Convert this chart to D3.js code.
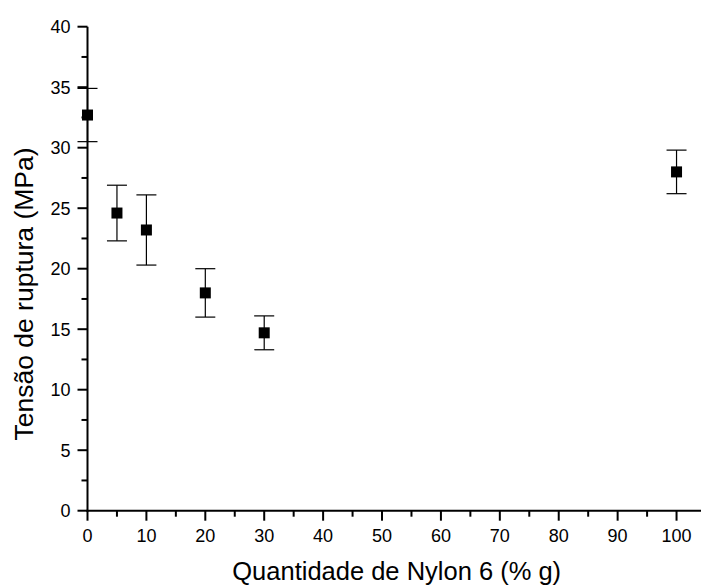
<!DOCTYPE html>
<html>
<head>
<meta charset="utf-8">
<script src="https://cdn.jsdelivr.net/npm/d3@7"></script>
<style>
  body { margin: 0; background: #fff; }
  text { font-family: "Liberation Sans", Arial, sans-serif; fill: #000; }
</style>
</head>
<body>
<div id="draw"></div>
<script>
// data
let nylon = [0, 5, 10, 20, 30, 100];
let tensao = [32.7, 24.6, 23.2, 18.0, 14.7, 28.0];
let errUp = [34.9, 26.9, 26.1, 20.0, 16.1, 29.8];
let errDown = [30.5, 22.3, 20.3, 16.0, 13.3, 26.2];
let xTicks = [0, 10, 20, 30, 40, 50, 60, 70, 80, 90, 100];
let yTicks = [0, 5, 10, 15, 20, 25, 30, 35, 40];

// parameters
let width = 701, height = 585;
let margin = { top: 26.7, left: 87.5, bottom: 74.3, right: 0 };
let x = d3.scaleLinear().domain([0, 104]).range([margin.left, margin.left + 612.6]);
let y = d3.scaleLinear().domain([0, 40]).range([height - margin.bottom, margin.top]);

let svg = d3.select('#draw').append('svg').attr('width', width).attr('height', height);

// minor ticks
let xMinor = d3.range(5, 105, 10);
let yMinor = d3.range(2.5, 40, 5);

let gx = svg.append('g').attr('transform', 'translate(0,' + y(0) + ')');
gx.append('line').attr('x1', x(0) - 1).attr('x2', width).attr('stroke', '#000').attr('stroke-width', 2);
gx.selectAll('.maj').data(xTicks).enter().append('line')
    .attr('x1', d => x(d)).attr('x2', d => x(d)).attr('y1', 0).attr('y2', 10)
    .attr('stroke', '#000').attr('stroke-width', 2);
gx.selectAll('.min').data(xMinor).enter().append('line')
    .attr('x1', d => x(d)).attr('x2', d => x(d)).attr('y1', 0).attr('y2', 6)
    .attr('stroke', '#000').attr('stroke-width', 2);
gx.selectAll('text').data(xTicks).enter().append('text')
    .attr('x', d => x(d)).attr('y', 31.5).attr('text-anchor', 'middle')
    .style('font-size', '18px').text(d => d);

let gy = svg.append('g').attr('transform', 'translate(' + x(0) + ',0)');
gy.append('line').attr('y1', y(40)).attr('y2', y(0) + 1).attr('stroke', '#000').attr('stroke-width', 2);
gy.selectAll('.maj').data(yTicks).enter().append('line')
    .attr('y1', d => y(d)).attr('y2', d => y(d)).attr('x1', 0).attr('x2', -10)
    .attr('stroke', '#000').attr('stroke-width', 2);
gy.selectAll('.min').data(yMinor).enter().append('line')
    .attr('y1', d => y(d)).attr('y2', d => y(d)).attr('x1', 0).attr('x2', -6)
    .attr('stroke', '#000').attr('stroke-width', 2);
gy.selectAll('text').data(yTicks).enter().append('text')
    .attr('x', -17).attr('y', d => y(d) + 6.3).attr('text-anchor', 'end')
    .style('font-size', '18px').text(d => d);

// titles
svg.append('text').attr('x', 396.7).attr('y', 579.5).attr('text-anchor', 'middle')
    .style('font-size', '25.5px').text('Quantidade de Nylon 6 (% g)');
svg.append('text').attr('transform', 'translate(33,294) rotate(-90)')
    .attr('text-anchor', 'middle').style('font-size', '26.5px').text('Tensão de ruptura (MPa)');

// error bars
let pts = nylon.map((d, i) => ({ x: d, v: tensao[i], hi: errUp[i], lo: errDown[i] }));
let eb = svg.append('g').attr('stroke', '#000').attr('stroke-width', 1.2);
eb.selectAll('.v').data(pts).enter().append('line')
    .attr('x1', d => x(d.x)).attr('x2', d => x(d.x)).attr('y1', d => y(d.hi)).attr('y2', d => y(d.lo));
eb.selectAll('.t').data(pts).enter().append('line')
    .attr('x1', d => x(d.x) - 10).attr('x2', d => x(d.x) + 10).attr('y1', d => y(d.hi)).attr('y2', d => y(d.hi));
eb.selectAll('.b').data(pts).enter().append('line')
    .attr('x1', d => x(d.x) - 10).attr('x2', d => x(d.x) + 10).attr('y1', d => y(d.lo)).attr('y2', d => y(d.lo));

// markers
let s = 11;
svg.append('g').selectAll('rect').data(pts).enter().append('rect')
    .attr('x', d => x(d.x) - s / 2).attr('y', d => y(d.v) - s / 2)
    .attr('width', s).attr('height', s).attr('fill', '#000');
</script>
</body>
</html>
